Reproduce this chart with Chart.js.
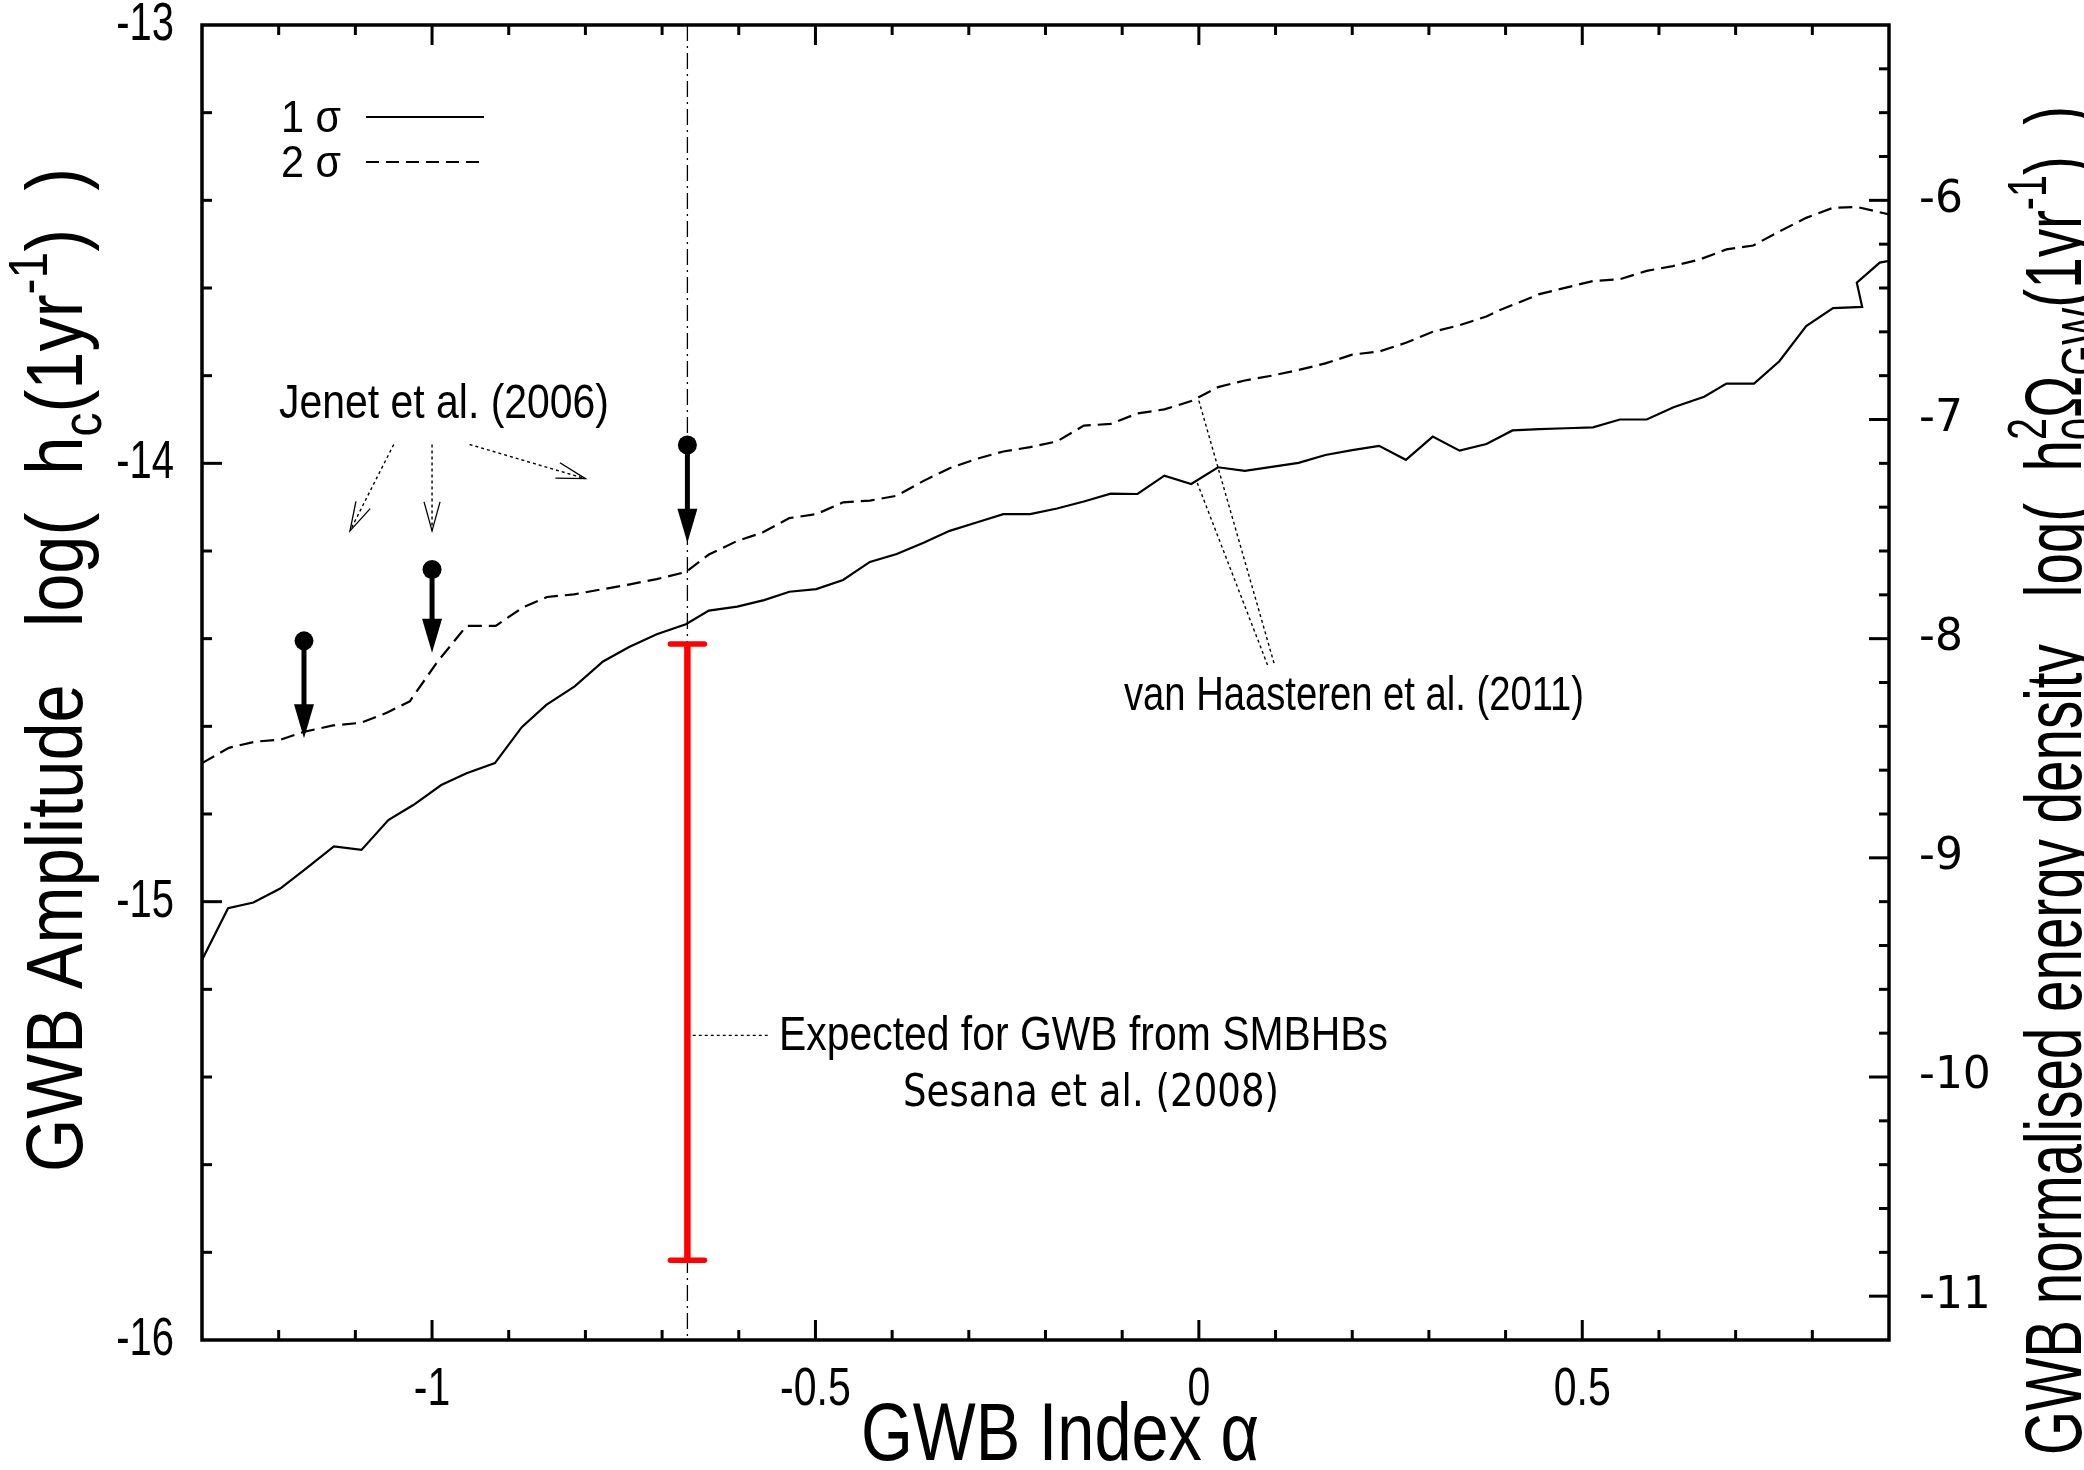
<!DOCTYPE html>
<html>
<head>
<meta charset="utf-8">
<script src="https://cdn.jsdelivr.net/npm/chart.js@4.4.1/dist/chart.umd.min.js"></script>
<style>
  html, body { margin: 0; padding: 0; background: #fff; overflow: hidden; }
  #wrap { width: 2084px; height: 1470px; }
</style>
</head>
<body>
<div id="wrap"><canvas id="gwb" width="2084" height="1470"></canvas></div>
<script>
// 1 sigma upper limit on the GWB amplitude vs spectral index
const sig1Alpha = [-1.300, -1.266, -1.233, -1.198, -1.164, -1.128, -1.092, -1.057, -1.024, -0.988,
  -0.955, -0.918, -0.883, -0.851, -0.814, -0.777, -0.743, -0.707, -0.669, -0.639,
  -0.602, -0.567, -0.534, -0.499, -0.464, -0.429, -0.394, -0.359, -0.325, -0.290,
  -0.255, -0.220, -0.185, -0.150, -0.115, -0.080, -0.045, -0.010, 0.025, 0.060,
  0.095, 0.130, 0.165, 0.200, 0.235, 0.270, 0.305, 0.340, 0.375, 0.409,
  0.444, 0.479, 0.514, 0.549, 0.584, 0.619, 0.659, 0.688, 0.724, 0.757,
  0.792, 0.827, 0.865, 0.858, 0.888, 0.900];
const sig1Amp = [-15.133, -15.015, -15.002, -14.970, -14.924, -14.874, -14.882, -14.814, -14.779, -14.734,
  -14.707, -14.684, -14.602, -14.551, -14.509, -14.452, -14.419, -14.390, -14.367, -14.336,
  -14.327, -14.312, -14.293, -14.287, -14.266, -14.225, -14.207, -14.181, -14.154, -14.135,
  -14.116, -14.116, -14.103, -14.087, -14.069, -14.070, -14.028, -14.047, -14.009, -14.017,
  -14.008, -13.999, -13.981, -13.970, -13.960, -13.992, -13.939, -13.971, -13.956, -13.925,
  -13.922, -13.920, -13.918, -13.900, -13.900, -13.872, -13.848, -13.818, -13.818, -13.767,
  -13.687, -13.646, -13.643, -13.588, -13.542, -13.538];

// 2 sigma upper limit
const sig2Alpha = [-1.300, -1.265, -1.231, -1.197, -1.166, -1.129, -1.093, -1.059, -1.029, -0.994,
  -0.955, -0.917, -0.882, -0.850, -0.815, -0.777, -0.742, -0.707, -0.669, -0.639,
  -0.602, -0.569, -0.534, -0.499, -0.464, -0.429, -0.394, -0.359, -0.325, -0.290,
  -0.255, -0.220, -0.185, -0.150, -0.115, -0.080, -0.045, -0.010, 0.025, 0.060,
  0.095, 0.130, 0.165, 0.200, 0.235, 0.270, 0.305, 0.340, 0.375, 0.392,
  0.427, 0.444, 0.514, 0.549, 0.584, 0.618, 0.653, 0.688, 0.723, 0.758,
  0.792, 0.827, 0.858, 0.900];
const sig2Amp = [-14.684, -14.649, -14.635, -14.630, -14.612, -14.598, -14.592, -14.569, -14.543, -14.455,
  -14.371, -14.371, -14.329, -14.305, -14.299, -14.287, -14.276, -14.264, -14.248, -14.208,
  -14.177, -14.158, -14.125, -14.116, -14.089, -14.085, -14.074, -14.040, -14.011, -13.990,
  -13.973, -13.963, -13.950, -13.914, -13.910, -13.886, -13.877, -13.858, -13.826, -13.811,
  -13.800, -13.787, -13.772, -13.752, -13.745, -13.725, -13.700, -13.685, -13.665, -13.651,
  -13.626, -13.614, -13.584, -13.580, -13.561, -13.550, -13.535, -13.512, -13.503, -13.470,
  -13.440, -13.417, -13.415, -13.432];

// Jenet et al. (2006) upper limits, drawn as dot + downward arrow
const jenetAlpha = [-1.167, -1.000, -0.667];
const jenetAmp = [-14.405, -14.242, -13.958];
const jenetTip = [-14.627, -14.432, -14.181];

// Sesana et al. (2008) expected range for SMBHB background
const sesanaAlpha = -0.667;
const sesanaLow = -15.818;
const sesanaHigh = -14.412;

// axes
const xRange = [-1.3, 0.9];
const yRange = [-16, -13];
const y2Range = [-11.2, -5.2];
const xTicks = [-1, -0.5, 0, 0.5];
const xTickLabels = ['-1', '-0.5', '0', '0.5'];
const yTicks = [-13, -14, -15, -16];
const yTickLabels = ['-13', '-14', '-15', '-16'];
const y2Ticks = [-6, -7, -8, -9, -10, -11];
const y2TickLabels = ['-6', '-7', '-8', '-9', '-10', '-11'];

const SANS = '"Liberation Sans", Arial, sans-serif';
const DEJAVU = '"DejaVu Sans", sans-serif';

// dotted pointer lines (data coordinates), some with open arrow heads
const pointers = [
  { from: [-1.050, -13.957], to: [-1.107, -14.154], head: true },
  { from: [-1.000, -13.957], to: [-1.000, -14.154], head: true },
  { from: [-0.951, -13.957], to: [-0.800, -14.035], head: true },
  { from: [0.000, -13.857], to: [0.099, -14.462], head: false },
  { from: [-0.002, -14.045], to: [0.090, -14.462], head: false },
  { from: [-0.660, -15.305], to: [-0.559, -15.305], head: false }
];

const toXY = (xs, ys) => xs.map((x, i) => ({ x, y: ys[i] }));

function drawItems(ctx, items, size, family, draw) {
  let x = 0;
  items.forEach(it => {
    if (it.t !== undefined) {
      ctx.font = `${size}px ${family}`;
      if (draw) ctx.fillText(it.t, x, 0);
      x += ctx.measureText(it.t).width;
    } else {
      const s = size * 0.7;
      ctx.font = `${s}px ${family}`;
      let w = 0;
      if (it.sub) {
        if (draw) ctx.fillText(it.sub, x, size * 0.24);
        w = Math.max(w, ctx.measureText(it.sub).width);
      }
      if (it.sup) {
        if (draw) ctx.fillText(it.sup, x, -size * 0.44);
        w = Math.max(w, ctx.measureText(it.sup).width);
      }
      x += w;
    }
  });
  return x;
}

// rich text squeezed to a given length, optionally rotated
function fitText(ctx, items, x, y, size, family, length, rot) {
  ctx.save();
  const w = drawItems(ctx, items, size, family, false);
  ctx.translate(x, y);
  ctx.rotate(rot || 0);
  ctx.scale(length / w, 1);
  ctx.textAlign = 'left';
  ctx.textBaseline = 'alphabetic';
  drawItems(ctx, items, size, family, true);
  ctx.restore();
}

// plain label with a horizontal squeeze factor
function label(ctx, text, x, y, font, align, base, sq) {
  ctx.save();
  ctx.font = font;
  ctx.textAlign = align;
  ctx.textBaseline = base;
  ctx.translate(x, y);
  ctx.scale(sq || 1, 1);
  ctx.fillText(text, 0, 0);
  ctx.restore();
}

const gnuplotFrame = {
  id: 'gnuplotFrame',
  afterDatasetsDraw(chart) {
    const { ctx, scales } = chart;
    const sx = scales.x, sy = scales.y;

    // dotted pointers
    ctx.save();
    ctx.strokeStyle = '#000';
    pointers.forEach(p => {
      const x0 = sx.getPixelForValue(p.from[0]), y0 = sy.getPixelForValue(p.from[1]);
      const x1 = sx.getPixelForValue(p.to[0]), y1 = sy.getPixelForValue(p.to[1]);
      ctx.lineWidth = 1.4;
      ctx.setLineDash([3, 3]);
      ctx.beginPath(); ctx.moveTo(x0, y0); ctx.lineTo(x1, y1); ctx.stroke();
      if (p.head) {
        const a = Math.atan2(y0 - y1, x0 - x1);
        const L = 30, da = 0.27;
        ctx.setLineDash([]);
        ctx.lineWidth = 1.3;
        ctx.beginPath();
        ctx.moveTo(x1 + L * Math.cos(a + da), y1 + L * Math.sin(a + da));
        ctx.lineTo(x1, y1);
        ctx.lineTo(x1 + L * Math.cos(a - da), y1 + L * Math.sin(a - da));
        ctx.stroke();
      }
    });
    ctx.restore();

    // Jenet upper limit arrows
    ctx.save();
    ctx.fillStyle = '#000';
    ctx.strokeStyle = '#000';
    jenetAlpha.forEach((a, i) => {
      const px = sx.getPixelForValue(a);
      const py = sy.getPixelForValue(jenetAmp[i]);
      const pt = sy.getPixelForValue(jenetTip[i]);
      const headLen = 34, headHalf = 10;
      ctx.lineWidth = 5;
      ctx.beginPath(); ctx.moveTo(px, py); ctx.lineTo(px, pt - headLen + 2); ctx.stroke();
      ctx.beginPath();
      ctx.moveTo(px - headHalf, pt - headLen);
      ctx.lineTo(px + headHalf, pt - headLen);
      ctx.lineTo(px, pt);
      ctx.closePath();
      ctx.fill();
    });
    ctx.restore();

    // Sesana expected range
    ctx.save();
    const ex = sx.getPixelForValue(sesanaAlpha);
    const eTop = sy.getPixelForValue(sesanaHigh);
    const eBot = sy.getPixelForValue(sesanaLow);
    ctx.strokeStyle = '#ff0000';
    ctx.lineWidth = 6.5;
    ctx.beginPath(); ctx.moveTo(ex, eTop); ctx.lineTo(ex, eBot); ctx.stroke();
    ctx.lineWidth = 5.5;
    ctx.lineCap = 'round';
    [eTop, eBot].forEach(yy => {
      ctx.beginPath(); ctx.moveTo(ex - 17, yy); ctx.lineTo(ex + 17, yy); ctx.stroke();
    });
    ctx.restore();
  },
  afterDraw(chart) {
    const { ctx, chartArea: ca, scales } = chart;
    const sx = scales.x, sy = scales.y, sy2 = scales.y2;
    ctx.save();
    ctx.strokeStyle = '#000';
    ctx.fillStyle = '#000';

    // tick marks, pointing inwards
    ctx.lineWidth = 3;
    const major = 20, minor = 10;
    for (let k = -12; k <= 8; k++) {
      const v = k / 10;
      const px = sx.getPixelForValue(v);
      const len = (k % 5 === 0) ? major : minor;
      ctx.beginPath();
      ctx.moveTo(px, ca.bottom); ctx.lineTo(px, ca.bottom - len);
      ctx.moveTo(px, ca.top); ctx.lineTo(px, ca.top + len);
      ctx.stroke();
    }
    for (let k = 1; k < 15; k++) {
      const py = sy.getPixelForValue(-13 - k * 0.2);
      const len = (k % 5 === 0) ? major : minor;
      ctx.beginPath(); ctx.moveTo(ca.left, py); ctx.lineTo(ca.left + len, py); ctx.stroke();
    }
    for (let k = 1; k < 30; k++) {
      const py = sy2.getPixelForValue(-5.2 - k * 0.2);
      const len = ((k - 4) % 5 === 0) ? major : minor;
      ctx.beginPath(); ctx.moveTo(ca.right, py); ctx.lineTo(ca.right - len, py); ctx.stroke();
    }

    // frame
    ctx.lineWidth = 3.5;
    ctx.strokeRect(ca.left, ca.top, ca.right - ca.left, ca.bottom - ca.top);

    // tick labels
    xTicks.forEach((v, i) => label(ctx, xTickLabels[i], sx.getPixelForValue(v), 1390, `54px ${SANS}`, 'center', 'middle', 0.76));
    yTicks.forEach((v, i) => label(ctx, yTickLabels[i], 174, sy.getPixelForValue(v), `54px ${SANS}`, 'right', 'middle', 0.74));
    y2Ticks.forEach((v, i) => label(ctx, y2TickLabels[i], 1919, sy2.getPixelForValue(v), `44px ${DEJAVU}`, 'left', 'middle', 1));

    // axis titles
    fitText(ctx, [{ t: 'GWB Index α' }], 861, 1460, 82, SANS, 398, 0);
    fitText(ctx, [{ t: 'GWB Amplitude   log(  h' }, { sub: 'c' }, { t: '(1yr' }, { sup: '-1' }, { t: ')  )' }],
      82, 1172, 80, SANS, 1004, -Math.PI / 2);
    fitText(ctx, [{ t: 'GWB normalised energy density   log(  h' }, { sub: '0', sup: '2' }, { t: 'Ω' },
      { sub: 'GW' }, { t: '(1yr' }, { sup: '-1' }, { t: ')  )' }],
      2081, 1455, 80, SANS, 1349, -Math.PI / 2);

    // key
    fitText(ctx, [{ t: '1 σ' }], 281, 132, 44, SANS, 60, 0);
    fitText(ctx, [{ t: '2 σ' }], 281, 177, 44, SANS, 60, 0);
    ctx.lineWidth = 2.2;
    ctx.beginPath(); ctx.moveTo(366, 117); ctx.lineTo(484, 117); ctx.stroke();
    ctx.setLineDash([13, 7]);
    ctx.beginPath(); ctx.moveTo(366, 162); ctx.lineTo(484, 162); ctx.stroke();
    ctx.setLineDash([]);

    // annotations
    fitText(ctx, [{ t: 'Jenet et al. (2006)' }], 279, 418, 48, SANS, 330, 0);
    fitText(ctx, [{ t: 'van Haasteren et al. (2011)' }], 1124, 710, 48, SANS, 460, 0);
    fitText(ctx, [{ t: 'Expected for GWB from SMBHBs' }], 779, 1050, 48, SANS, 609, 0);
    fitText(ctx, [{ t: 'Sesana et al. (2008)' }], 903, 1106, 44, DEJAVU, 376, 0);
    ctx.restore();
  }
};

new Chart(document.getElementById('gwb').getContext('2d'), {
  type: 'scatter',
  data: {
    datasets: [
      {
        label: '1 σ',
        data: toXY(sig1Alpha, sig1Amp),
        showLine: true, borderColor: '#000', borderWidth: 2.2,
        pointRadius: 0, tension: 0, fill: false
      },
      {
        label: '2 σ',
        data: toXY(sig2Alpha, sig2Amp),
        showLine: true, borderColor: '#000', borderWidth: 2.2, borderDash: [14, 7],
        pointRadius: 0, tension: 0, fill: false
      },
      {
        label: 'alpha = -2/3',
        data: [{ x: sesanaAlpha, y: yRange[1] }, { x: sesanaAlpha, y: yRange[0] }],
        showLine: true, borderColor: '#000', borderWidth: 1.3, borderDash: [16, 5, 2, 5],
        pointRadius: 0
      },
      {
        label: 'Jenet et al. (2006)',
        data: toXY(jenetAlpha, jenetAmp),
        showLine: false, pointRadius: 9.5, pointBackgroundColor: '#000', pointBorderWidth: 0
      }
    ]
  },
  options: {
    responsive: false,
    devicePixelRatio: 1,
    animation: false,
    events: [],
    layout: { padding: { left: 202, right: 195, top: 25, bottom: 130 } },
    plugins: { legend: { display: false }, tooltip: { enabled: false } },
    scales: {
      x: { type: 'linear', display: false, min: xRange[0], max: xRange[1] },
      y: { type: 'linear', display: false, min: yRange[0], max: yRange[1] },
      y2: { type: 'linear', display: false, position: 'right', min: y2Range[0], max: y2Range[1] }
    }
  },
  plugins: [gnuplotFrame]
});
</script>
</body>
</html>
